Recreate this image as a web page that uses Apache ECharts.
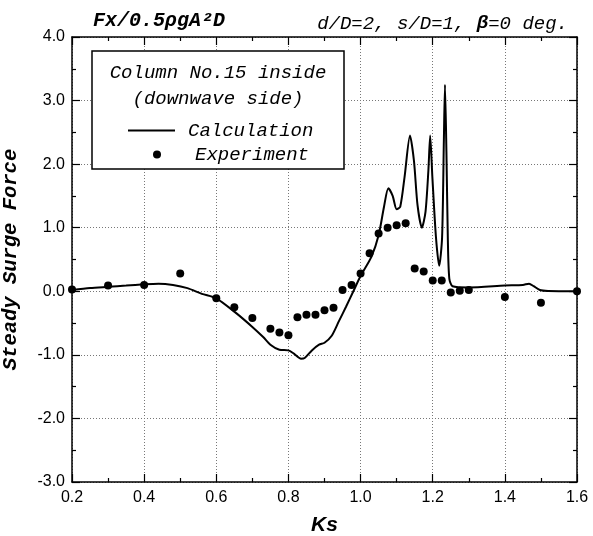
<!DOCTYPE html>
<html>
<head>
<meta charset="utf-8">
<script src="https://cdn.jsdelivr.net/npm/echarts@6/dist/echarts.min.js"></script>
<style>html,body{margin:0;padding:0;background:#fff}#c{width:593px;height:536px}</style>
</head>
<body>
<div id="c"></div>
<script>
// Calculation curve (Ks, force)
var calcKs = [0.20,0.25,0.30,0.35,0.40,0.44,0.48,0.52,0.56,0.60,0.65,0.70,0.73,0.75,0.775,0.80,0.815,0.835,0.845,0.865,0.885,0.90,0.92,0.94,0.96,0.98,1.00,1.03,1.05,1.065,1.077,1.089,1.100,1.110,1.122,1.137,1.148,1.158,1.170,1.180,1.188,1.193,1.199,1.209,1.218,1.226,1.231,1.234,1.238,1.242,1.246,1.255,1.30,1.40,1.45,1.467,1.48,1.497,1.52,1.60];
var calcVal = [0.02,0.05,0.07,0.09,0.11,0.12,0.10,0.05,-0.04,-0.11,-0.32,-0.56,-0.72,-0.84,-0.92,-0.93,-0.98,-1.06,-1.05,-0.93,-0.84,-0.81,-0.70,-0.47,-0.24,0.0,0.24,0.54,0.88,1.33,1.62,1.50,1.29,1.33,1.80,2.45,2.05,1.35,1.00,1.25,1.90,2.45,1.80,0.85,0.40,0.85,2.40,3.25,2.20,0.80,0.20,0.08,0.06,0.09,0.10,0.12,0.08,0.02,0.005,0.0];
// Experiment points
var expKs = [0.2,0.3,0.4,0.5,0.6,0.65,0.7,0.75,0.775,0.8,0.825,0.85,0.875,0.9,0.925,0.95,0.975,1.0,1.025,1.05,1.075,1.1,1.125,1.15,1.175,1.2,1.225,1.25,1.275,1.3,1.4,1.5,1.6];
var expVal = [0.03,0.09,0.10,0.28,-0.11,-0.25,-0.42,-0.59,-0.65,-0.69,-0.41,-0.37,-0.37,-0.30,-0.26,0.02,0.10,0.28,0.60,0.91,1.00,1.04,1.07,0.36,0.31,0.17,0.17,-0.02,0.01,0.02,-0.09,-0.18,0.0];
// Axis settings
var xTicks = [0.2,0.4,0.6,0.8,1.0,1.2,1.4,1.6];
var yTicks = [-3,-2,-1,0,1,2,3,4];

var calcData = calcKs.map(function(k,i){return [k, calcVal[i]];});
var expData = expKs.map(function(k,i){return [k, expVal[i]];});

var mono = '"Liberation Mono","DejaVu Sans Mono",monospace';
var sans = '"Liberation Sans",Arial,sans-serif';

var tickStyle = {show:true, inside:true, length:8, lineStyle:{color:'#000', width:1.2}};
var minorStyle = {show:true, splitNumber:2, length:4, lineStyle:{color:'#000', width:1.2}};
var axisLine = {show:true, onZero:false, lineStyle:{color:'#000', width:1.5}};

var chart = echarts.init(document.getElementById('c'), null, {renderer:'canvas'});
chart.setOption({
  backgroundColor:'#fff',
  animation:false,
  title:[
    {text:'Fx/0.5ρgA²D', left:88, top:6, textStyle:{fontFamily:mono, fontStyle:'italic', fontWeight:'bold', fontSize:20, color:'#000'}},
    {text:'d/D=2, s/D=1, {b|β}=0 deg.', right:20, top:9, textStyle:{fontFamily:mono, fontStyle:'italic', fontWeight:'normal', fontSize:19, color:'#000',
      rich:{b:{fontFamily:mono, fontStyle:'italic', fontWeight:'bold', fontSize:19, color:'#000'}}}}
  ],
  grid:{left:72, right:16, top:37, bottom:54, containLabel:false, outerBoundsMode:'none'},
  xAxis:[
    {type:'value', min:xTicks[0], max:xTicks[xTicks.length-1], interval:0.2, position:'bottom',
     name:'Ks', nameLocation:'middle', nameGap:33,
     nameTextStyle:{fontFamily:sans, fontStyle:'italic', fontWeight:'bold', fontSize:21, color:'#000'},
     axisLine:axisLine, axisTick:tickStyle, minorTick:minorStyle,
     axisLabel:{color:'#000', fontFamily:sans, fontSize:16, margin:8, formatter:function(v){return v.toFixed(1);}},
     splitLine:{show:true, lineStyle:{color:'#777', type:[1,2], width:1}}},
    {type:'value', min:xTicks[0], max:xTicks[xTicks.length-1], interval:0.2, position:'top',
     axisLine:axisLine, axisTick:tickStyle, minorTick:minorStyle, axisLabel:{show:false}, splitLine:{show:false}}
  ],
  yAxis:[
    {type:'value', min:yTicks[0], max:yTicks[yTicks.length-1], interval:1, position:'left',
     name:'Steady Surge Force', nameLocation:'middle', nameGap:51, nameRotate:90,
     nameTextStyle:{fontFamily:mono, fontStyle:'italic', fontWeight:'bold', fontSize:20.5, color:'#000'},
     axisLine:axisLine, axisTick:tickStyle, minorTick:minorStyle,
     axisLabel:{color:'#000', fontFamily:sans, fontSize:16, margin:7, formatter:function(v){return v.toFixed(1);}},
     splitLine:{show:true, lineStyle:{color:'#777', type:[1,2], width:1}}},
    {type:'value', min:yTicks[0], max:yTicks[yTicks.length-1], interval:1, position:'right',
     axisLine:axisLine, axisTick:tickStyle, minorTick:minorStyle, axisLabel:{show:false}, splitLine:{show:false}}
  ],
  legend:[
    {data:[{name:'Calculation', icon:'rect'}], left:123, top:116, itemWidth:47, itemHeight:2, orient:'vertical',
     itemStyle:{color:'#000', opacity:1},
     textStyle:{fontFamily:mono, fontStyle:'italic', fontSize:19, color:'#000', padding:[0,0,0,8]}, z:20},
    {data:[{name:'Experiment', icon:'circle'}], left:148, top:140, itemWidth:8, itemHeight:8, orient:'vertical',
     itemStyle:{color:'#000', opacity:1},
     textStyle:{fontFamily:mono, fontStyle:'italic', fontSize:19, color:'#000', padding:[0,0,0,29]}, z:20}
  ],
  graphic:[
    {type:'rect', z:10, shape:{x:92, y:51, width:252, height:118}, style:{fill:'#fff', stroke:'#000', lineWidth:1.5}},
    {type:'text', z:11, x:218, y:73, style:{text:'Column No.15 inside', fill:'#000', font:'italic 19px "Liberation Mono", monospace', textAlign:'center', textVerticalAlign:'middle'}},
    {type:'text', z:11, x:218, y:99, style:{text:'(downwave side)', fill:'#000', font:'italic 19px "Liberation Mono", monospace', textAlign:'center', textVerticalAlign:'middle'}}
  ],
  series:[
    {name:'Calculation', type:'line', data:calcData, xAxisIndex:0, yAxisIndex:0, symbol:'none', smooth:0.25,
     lineStyle:{color:'#000', width:2}, itemStyle:{color:'#000'}, z:3},
    {name:'Experiment', type:'scatter', data:expData, xAxisIndex:0, yAxisIndex:0, symbol:'circle', symbolSize:8,
     itemStyle:{color:'#000', opacity:1}, clip:false, z:4}
  ]
});
</script>
</body>
</html>
